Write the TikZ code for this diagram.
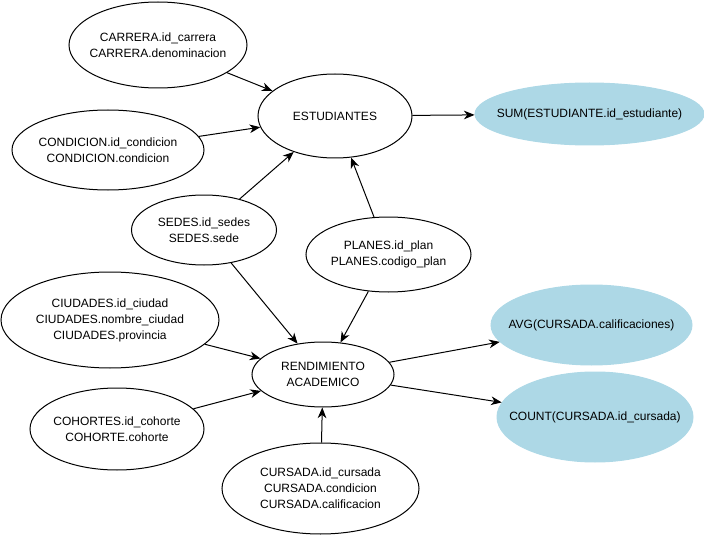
\documentclass[tikz,border=0pt]{standalone}
\usepackage{fontspec}
\setmainfont{Liberation Sans}
\usetikzlibrary{shapes.geometric,arrows.meta}
\definecolor{aggblue}{HTML}{ADD8E6}
\tikzset{
  ent/.style={ellipse, draw=black, line width=0.75pt, inner xsep=-30pt, inner ysep=0pt,
    align=center, font=\fontsize{9pt}{12pt}\selectfont},
  agg/.style={ent, draw=aggblue, fill=aggblue},
  conn/.style={line width=0.75pt, -{Stealth[length=8pt,width=6.5pt,inset=2.5pt]}}
}
\begin{document}
\begin{tikzpicture}[x=0.75pt,y=-0.75pt]
\useasboundingbox (0,0) rectangle (704,535);
\node[ent, minimum width=133.5pt, minimum height=64.5pt] (carrera) at (158,45) {CARRERA.id\_carrera\\CARRERA.denominacion};
\node[ent, minimum width=115.5pt, minimum height=63pt] (est) at (335,116) {ESTUDIANTES};
\node[ent, minimum width=144pt, minimum height=60pt] (cond) at (108,150) {CONDICION.id\_condicion\\CONDICION.condicion};
\node[ent, minimum width=108.75pt, minimum height=52.5pt] (sedes) at (204,230) {SEDES.id\_sedes\\SEDES.sede};
\node[ent, minimum width=123.75pt, minimum height=56.25pt] (planes) at (388.5,254.5) {PLANES.id\_plan\\PLANES.codigo\_plan};
\node[agg, minimum width=171.75pt, minimum height=46.5pt] (sum) at (589.5,114) {SUM(ESTUDIANTE.id\_estudiante)};
\node[agg, minimum width=150.75pt, minimum height=60pt] (avg) at (591.5,325) {AVG(CURSADA.calificaciones)};
\node[agg, minimum width=147pt, minimum height=67.5pt] (count) at (595,417) {COUNT(CURSADA.id\_cursada)};
\node[ent, minimum width=163.5pt, minimum height=72pt] (ciud) at (110,320) {CIUDADES.id\_ciudad\\CIUDADES.nombre\_ciudad\\CIUDADES.provincia};
\node[ent, minimum width=106.5pt, minimum height=48.75pt] (rend) at (323,374.5) {RENDIMIENTO\\ACADEMICO};
\node[ent, minimum width=130.5pt, minimum height=61.5pt] (coh) at (117,429) {COHORTES.id\_cohorte\\COHORTE.cohorte};
\node[ent, minimum width=147.75pt, minimum height=68.25pt] (curs) at (320.5,488.5) {CURSADA.id\_cursada\\CURSADA.condicion\\CURSADA.calificacion};

\draw[conn] (carrera) -- (est);
\draw[conn] (cond) -- (est);
\draw[conn] (sedes) -- (est);
\draw[conn] (planes) -- (est);
\draw[conn] (est) -- (sum);
\draw[conn] (sedes) -- (rend);
\draw[conn] (planes) -- (rend);
\draw[conn] (ciud) -- (rend);
\draw[conn] (coh) -- (rend);
\draw[conn] (curs) -- (rend);
\draw[conn] (rend) -- (avg);
\draw[conn] (rend) -- (count);
\end{tikzpicture}
\end{document}
